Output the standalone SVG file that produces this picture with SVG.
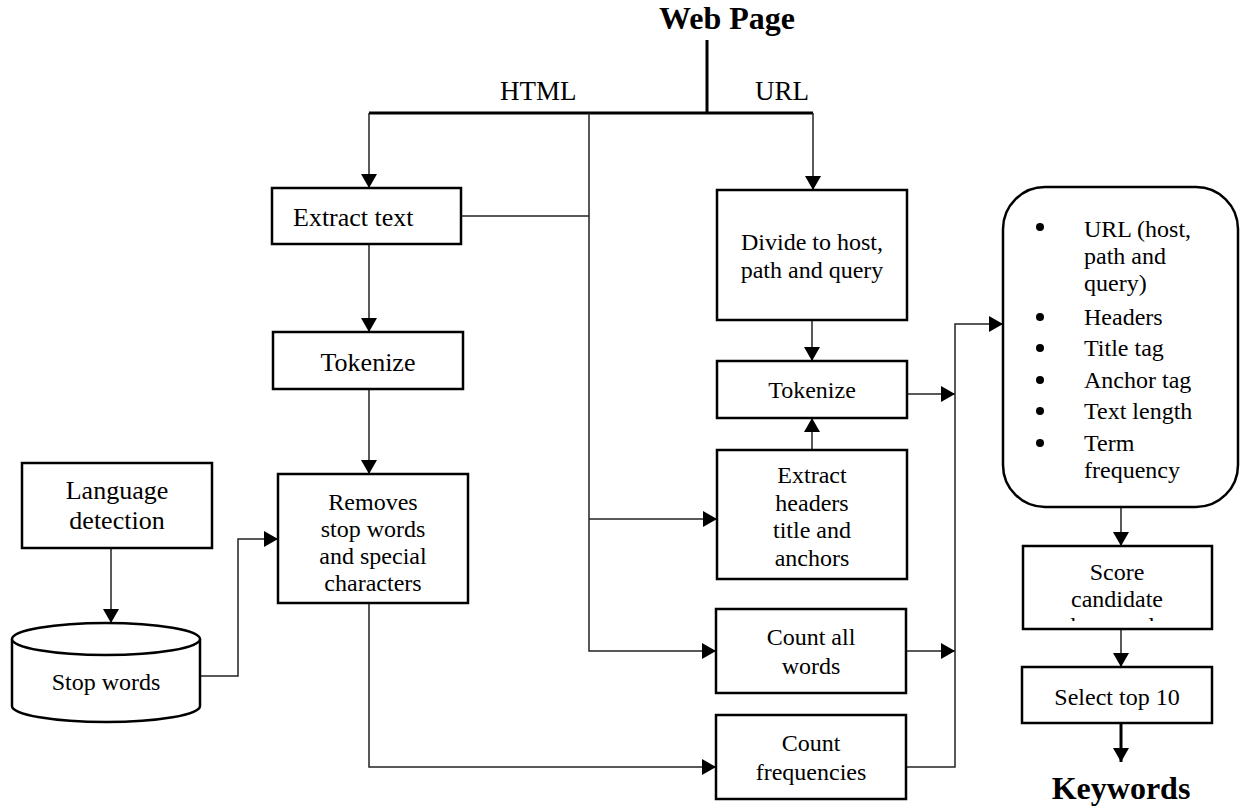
<svg xmlns="http://www.w3.org/2000/svg" width="1241" height="810" viewBox="0 0 1241 810">
<style>
text{font-family:"Liberation Serif","Times New Roman",serif;fill:#000}
.t{font-size:24px;text-anchor:middle}
.t26{font-size:26px;text-anchor:middle}
.lbl{font-size:27px}
.title{font-size:32px;font-weight:bold;text-anchor:middle}
.box{fill:#fff;stroke:#000;stroke-width:2.5}
.c{fill:none;stroke:#222;stroke-width:1.5}
.ct{fill:none;stroke:#000;stroke-width:3}
.li{font-size:24px}
</style>
<defs>
<marker id="ah" markerUnits="userSpaceOnUse" markerWidth="16" markerHeight="16" viewBox="0 0 14 16" refX="14" refY="8" orient="auto">
<path d="M0 0 L14 8 L0 16 Z" fill="#000"/>
</marker>
<clipPath id="scoreClip"><rect x="1023" y="546" width="189" height="75"/></clipPath>
</defs>

<g id="connectors">
<path class="ct" d="M707 40 V113"/>
<path class="ct" d="M369 113 H813"/>
<path class="c" d="M369 113 V188" marker-end="url(#ah)"/>
<path class="c" d="M813 113 V190" marker-end="url(#ah)"/>
<path class="c" d="M589 113 V651 H716" marker-end="url(#ah)"/>
<path class="c" d="M461 216 H589"/>
<path class="c" d="M589 519 H717" marker-end="url(#ah)"/>
<path class="c" d="M369 244 V332" marker-end="url(#ah)"/>
<path class="c" d="M369 389 V474" marker-end="url(#ah)"/>
<path class="c" d="M369 603 V767 H716" marker-end="url(#ah)"/>
<path class="c" d="M111 548 V623" marker-end="url(#ah)"/>
<path class="c" d="M200 676 H238 V539 H278" marker-end="url(#ah)"/>
<path class="c" d="M812 320 V361" marker-end="url(#ah)"/>
<path class="c" d="M812 450 V418" marker-end="url(#ah)"/>
<path class="c" d="M907 394 H955" marker-end="url(#ah)"/>
<path class="c" d="M906 651 H955" marker-end="url(#ah)"/>
<path class="c" d="M906 767 H955 V324 H1003" marker-end="url(#ah)"/>
<path class="c" d="M1121 507 V546" marker-end="url(#ah)"/>
<path class="c" d="M1121 629 V667" marker-end="url(#ah)"/>
<path class="ct" d="M1121 723 V762" marker-end="url(#ah)"/>
</g>

<g id="web-page">
<text class="title" x="727" y="29">Web Page</text>
</g>
<g id="label-html"><text class="lbl" x="500" y="100">HTML</text></g>
<g id="label-url"><text class="lbl" x="755" y="100">URL</text></g>

<g id="extract-text">
<rect class="box" x="272" y="188" width="189" height="56"/>
<text x="293" y="226" style="font-size:26px">Extract text</text>
</g>

<g id="tokenize-left">
<rect class="box" x="273" y="332" width="190" height="57"/>
<text class="t26" x="368" y="371">Tokenize</text>
</g>

<g id="removes">
<rect class="box" x="278" y="474" width="190" height="129"/>
<text class="t" x="373" y="510">Removes</text>
<text class="t" x="373" y="537">stop words</text>
<text class="t" x="373" y="564">and special</text>
<text class="t" x="373" y="591">characters</text>
</g>

<g id="language-detection">
<rect class="box" x="22" y="463" width="190" height="85"/>
<text class="t26" x="117" y="499">Language</text>
<text class="t26" x="117" y="529">detection</text>
</g>

<g id="stop-words">
<path class="box" d="M12 639 A94 16 0 0 1 200 639 V706 A94 16 0 0 1 12 706 Z"/>
<path class="box" d="M12 639 A94 16 0 0 0 200 639" fill="none"/>
<text class="t" x="106" y="690">Stop words</text>
</g>

<g id="divide">
<rect class="box" x="717" y="190" width="190" height="130"/>
<text class="t" x="812" y="250">Divide to host,</text>
<text class="t" x="812" y="278">path and query</text>
</g>

<g id="tokenize-right">
<rect class="box" x="717" y="361" width="190" height="57"/>
<text class="t" x="812" y="398">Tokenize</text>
</g>

<g id="extract-headers">
<rect class="box" x="717" y="450" width="190" height="129"/>
<text class="t" x="812" y="483">Extract</text>
<text class="t" x="812" y="511">headers</text>
<text class="t" x="812" y="538">title and</text>
<text class="t" x="812" y="566">anchors</text>
</g>

<g id="count-all-words">
<rect class="box" x="716" y="609" width="190" height="84"/>
<text class="t" x="811" y="645">Count all</text>
<text class="t" x="811" y="674">words</text>
</g>

<g id="count-frequencies">
<rect class="box" x="716" y="715" width="190" height="84"/>
<text class="t" x="811" y="751">Count</text>
<text class="t" x="811" y="780">frequencies</text>
</g>

<g id="features">
<rect class="box" x="1003" y="187" width="235" height="320" rx="42" ry="42"/>
<circle cx="1040" cy="227" r="4"/>
<circle cx="1040" cy="317" r="4"/>
<circle cx="1040" cy="348" r="4"/>
<circle cx="1040" cy="380" r="4"/>
<circle cx="1040" cy="411" r="4"/>
<circle cx="1040" cy="443" r="4"/>
<text class="li" x="1084" y="237">URL (host,</text>
<text class="li" x="1084" y="264">path and</text>
<text class="li" x="1084" y="291">query)</text>
<text class="li" x="1084" y="325">Headers</text>
<text class="li" x="1084" y="356">Title tag</text>
<text class="li" x="1084" y="388">Anchor tag</text>
<text class="li" x="1084" y="419">Text length</text>
<text class="li" x="1084" y="451">Term</text>
<text class="li" x="1084" y="478">frequency</text>
</g>

<g id="score">
<rect class="box" x="1023" y="546" width="189" height="83"/>
<g clip-path="url(#scoreClip)">
<text class="t" x="1117" y="580">Score</text>
<text class="t" x="1117" y="607">candidate</text>
<text class="t" x="1117" y="634">keywords</text>
</g>
</g>

<g id="select">
<rect class="box" x="1022" y="667" width="190" height="56"/>
<text class="t" x="1117" y="705">Select top 10</text>
</g>

<g id="keywords">
<text class="title" x="1121" y="799">Keywords</text>
</g>
</svg>
